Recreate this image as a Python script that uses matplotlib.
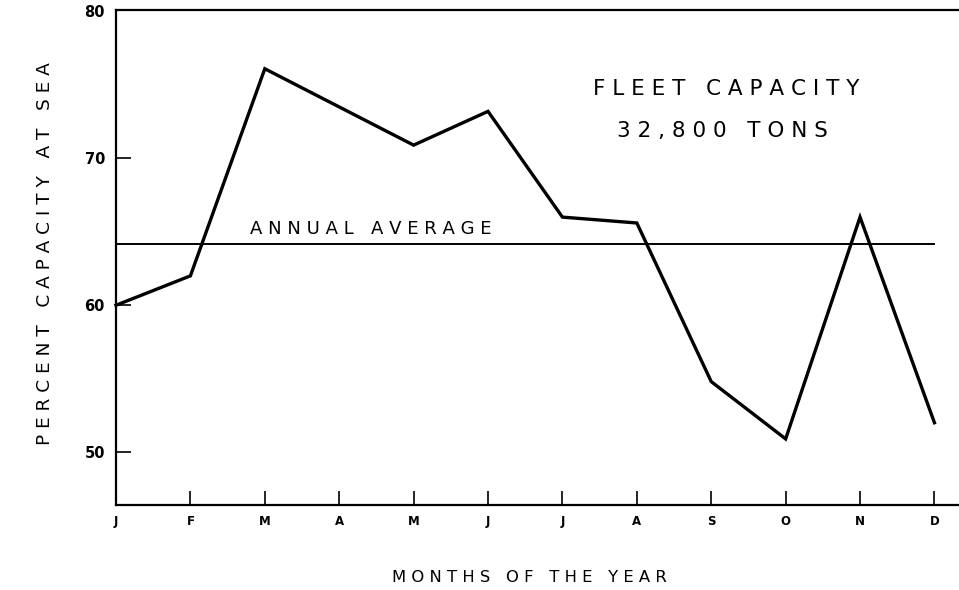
import matplotlib
matplotlib.use("Agg")
import matplotlib.pyplot as plt

months = ["J", "F", "M", "A", "M", "J", "J", "A", "S", "O", "N", "D"]
pct_at_sea = [60.0, 62.0, 76.1, 73.5, 70.9, 73.2, 66.0, 65.6, 54.8, 50.9, 66.0, 52.0]
annual_average = 64.2
y_ticks = [50, 60, 70, 80]

fig = plt.figure(figsize=(9.59, 5.90), dpi=100)
ax = fig.add_axes([116/959, 1 - 505/590, (959 - 116)/959, (505 - 10)/590])

x = list(range(len(months)))
ax.plot(x, pct_at_sea, color="black", lw=2.4, solid_joinstyle="miter", clip_on=False)
ax.plot([0, 11], [annual_average, annual_average], color="black", lw=1.4)

ax.set_xlim(0, 11.33)
ax.set_ylim(46.4, 80.1)
ax.set_xticks(x)
ax.set_xticklabels(months, fontsize=8.5, fontweight="bold")
ax.set_yticks(y_ticks)
ax.set_yticklabels([str(v) for v in y_ticks], fontsize=10.5, fontweight="bold")
ax.tick_params(axis="both", direction="in", length=10, width=1.2, colors="black")
ax.tick_params(axis="x", pad=7)
ax.tick_params(axis="y", pad=8, length=11)
ax.yaxis.get_major_ticks()[-1].tick1line.set_visible(False)

for s in ["left", "bottom", "top"]:
    ax.spines[s].set_linewidth(1.6)
ax.spines["right"].set_visible(False)

ax.text(3.43, 64.55, "A N N U A L   A V E R A G E", fontsize=13, ha="center", va="bottom")
ax.text(8.2, 74.7, "F L E E T   C A P A C I T Y", fontsize=15.5, ha="center", va="center")
ax.text(8.15, 71.85, "3 2 , 8 0 0   T O N S", fontsize=15.5, ha="center", va="center")

fig.text(529/959, 1 - 578/590, "M O N T H S   O F   T H E   Y E A R", fontsize=11.8,
         ha="center", va="center")
fig.text(45/959, 1 - 254/590, "P E R C E N T   C A P A C I T Y   A T   S E A", fontsize=13.3,
         ha="center", va="center", rotation=90)

fig.savefig("out.png", dpi=100, facecolor="white")
